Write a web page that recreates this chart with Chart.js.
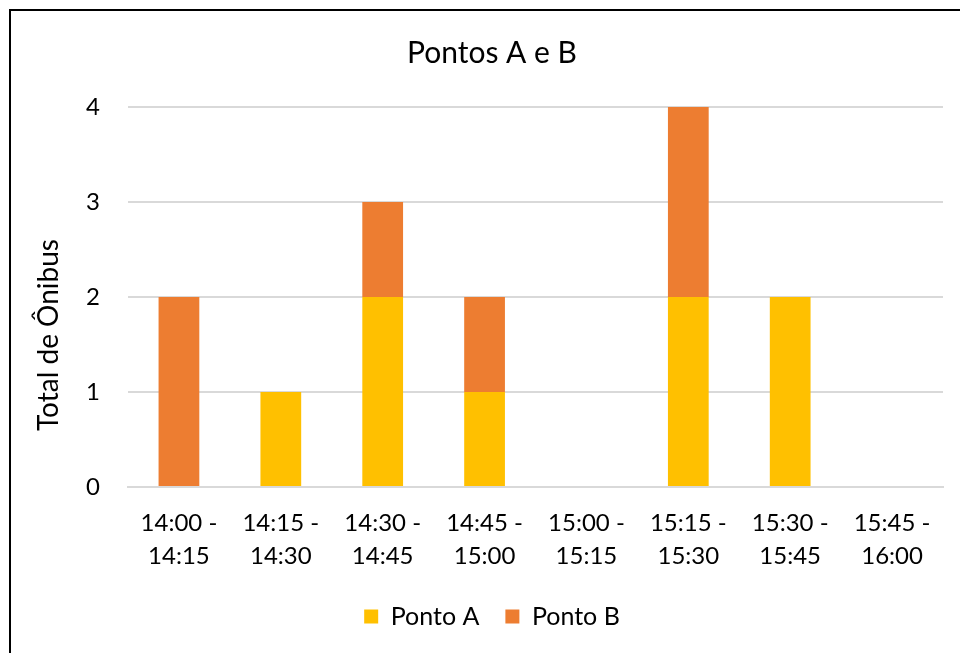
<!DOCTYPE html>
<html>
<head>
<meta charset="utf-8">
<script src="https://cdn.jsdelivr.net/npm/chart.js@4"></script>
<style>
  html, body { margin: 0; padding: 0; background: #fff; overflow: hidden; }
  #frame { position: absolute; left: 9px; top: 9px; width: 1000px; height: 700px; border-top: 2px solid #000; border-left: 2px solid #000; }
  #wrap { position: absolute; left: 0; top: 0; width: 960px; height: 653px; }
</style>
</head>
<body>
<div id="frame"></div>
<div id="wrap"><canvas id="chart"></canvas></div>
<script>
// faixas de horário
const labels = [
  ['14:00 -', '14:15'], ['14:15 -', '14:30'], ['14:30 -', '14:45'], ['14:45 -', '15:00'],
  ['15:00 -', '15:15'], ['15:15 -', '15:30'], ['15:30 -', '15:45'], ['15:45 -', '16:00']
];
const pontoA = [0, 1, 2, 1, 0, 2, 2, 0];
const pontoB = [2, 0, 1, 1, 0, 2, 0, 0];
const yTicks = [0, 1, 2, 3, 4];
const yTitle = 'Total de Ônibus';

const font = "Lato, 'Open Sans', sans-serif";
Chart.defaults.font.family = font;
Chart.defaults.color = '#000';

// titulo do eixo y desenhado um pouco abaixo do centro, como no Excel
const yTitlePlugin = {
  id: 'yTitle',
  afterDraw(chart) {
    const ctx = chart.ctx;
    const area = chart.chartArea;
    ctx.save();
    ctx.translate(49, area.top + (area.bottom - area.top) * 0.6);
    ctx.rotate(-Math.PI / 2);
    ctx.font = '28px ' + font;
    ctx.fillStyle = '#000';
    ctx.textAlign = 'center';
    ctx.textBaseline = 'middle';
    ctx.fillText(yTitle, 0, 0);
    ctx.restore();
  }
};

new Chart(document.getElementById('chart'), {
  type: 'bar',
  data: {
    labels: labels,
    datasets: [
      { label: 'Ponto A', data: pontoA, backgroundColor: '#FFC000', barPercentage: 0.8, categoryPercentage: 0.5 },
      { label: 'Ponto B', data: pontoB, backgroundColor: '#ED7D31', barPercentage: 0.8, categoryPercentage: 0.5 }
    ]
  },
  plugins: [yTitlePlugin],
  options: {
    responsive: true,
    maintainAspectRatio: false,
    animation: false,
    layout: { padding: { left: 41, right: 17, top: 35, bottom: 14 } },
    plugins: {
      title: {
        display: true,
        text: 'Pontos A e B',
        font: { size: 30, weight: 'normal', lineHeight: 1.2 },
        color: '#000',
        padding: { top: 0, bottom: 36 }
      },
      legend: {
        position: 'bottom',
        labels: { boxWidth: 14, boxHeight: 14, font: { size: 25 }, padding: 26 }
      },
      tooltip: { enabled: false }
    },
    scales: {
      x: {
        stacked: true,
        afterFit: axis => { axis.height -= 15; },
        grid: { display: false, drawTicks: false },
        border: { color: '#d9d9d9', width: 2 },
        ticks: { font: { size: 24, lineHeight: 1.375 }, padding: 20, maxRotation: 0 }
      },
      y: {
        stacked: true,
        min: 0,
        max: 4,
        afterBuildTicks: axis => { axis.ticks = yTicks.map(v => ({ value: v })); },
        afterFit: axis => { axis.width = 87; },
        grid: { color: '#d9d9d9', lineWidth: 2, drawTicks: false },
        border: { display: false },
        ticks: { font: { size: 24 }, padding: 28 }
      }
    }
  }
});
</script>
</body>
</html>
